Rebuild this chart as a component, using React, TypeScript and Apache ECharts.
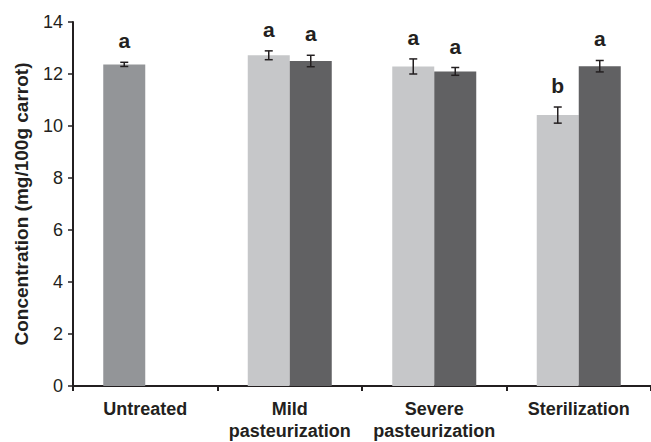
import React, { useEffect, useRef } from "react";
import * as echarts from "echarts";

const categories = ["Untreated", "Mild\npasteurization", "Severe\npasteurization", "Sterilization"];
const valuesA = [12.37, 12.72, 12.29, 10.42];
const errorsA = [0.08, 0.17, 0.29, 0.31];
const lettersA = ["a", "a", "a", "b"];
const valuesB: (number | null)[] = [null, 12.5, 12.1, 12.3];
const errorsB: (number | null)[] = [null, 0.22, 0.15, 0.22];
const lettersB: (string | null)[] = [null, "a", "a", "a"];
const yTicks = [0, 2, 4, 6, 8, 10, 12, 14];

const FONT = "'Liberation Sans', Arial, Helvetica, sans-serif";
const INK = "#231f20";
const BAR_W = 42;

function makeErrSeries(values: (number | null)[], errs: (number | null)[], letters: (string | null)[], sign: number) {
  const data = values.map((v, i) => (v == null ? [i, "-", "-"] : [i, v, errs[i]]));
  return {
    type: "custom",
    z: 5,
    data,
    renderItem: (params: any, api: any) => {
      const i = params.dataIndex;
      const v = values[i];
      const e = errs[i];
      if (v == null || e == null) return null;
      const c = api.coord([i, v]);
      const x = c[0] + sign * (BAR_W / 2);
      const yTop = api.coord([i, v + e])[1];
      const yBot = api.coord([i, v - e])[1];
      const cap = 4;
      const st = { stroke: INK, lineWidth: 1.5 };
      const children: any[] = [
        { type: "line", shape: { x1: x, y1: yTop, x2: x, y2: yBot }, style: st },
        { type: "line", shape: { x1: x - cap, y1: yTop, x2: x + cap, y2: yTop }, style: st },
        { type: "line", shape: { x1: x - cap, y1: yBot, x2: x + cap, y2: yBot }, style: st },
      ];
      if (letters[i]) {
        children.push({
          type: "text",
          style: {
            x,
            y: yTop - 11,
            text: letters[i],
            fill: INK,
            font: `bold 21px ${FONT}`,
            align: "center",
            verticalAlign: "bottom",
          },
        });
      }
      return { type: "group", children };
    },
  };
}

export default function App() {
  const ref = useRef<HTMLDivElement>(null);
  useEffect(() => {
    if (!ref.current) return;
    const chart = echarts.init(ref.current, undefined, { renderer: "svg" });
    chart.setOption({
      animation: false,
      backgroundColor: "#ffffff",
      grid: { left: 73, top: 22, width: 580, height: 365, containLabel: false },
      xAxis: {
        type: "category",
        data: categories,
        axisLine: { show: true, lineStyle: { color: INK, width: 2 } },
        axisTick: { show: true, alignWithLabel: false, length: 5, lineStyle: { color: INK, width: 2 } },
        axisLabel: {
          color: INK,
          fontFamily: FONT,
          fontWeight: "bold",
          fontSize: 18,
          lineHeight: 22,
          margin: 12,
          interval: 0,
        },
        splitLine: { show: false },
      },
      yAxis: {
        type: "value",
        min: yTicks[0],
        max: yTicks[yTicks.length - 1],
        interval: 2,
        name: "Concentration (mg/100g carrot)",
        nameLocation: "middle",
        nameGap: 42,
        nameTextStyle: { color: INK, fontFamily: FONT, fontWeight: "bold", fontSize: 19 },
        axisLine: { show: true, lineStyle: { color: INK, width: 2 } },
        axisTick: { show: true, length: 5, lineStyle: { color: INK, width: 1.5 } },
        axisLabel: { color: INK, fontFamily: FONT, fontSize: 18, margin: 10 },
        splitLine: { show: false },
      },
      series: [
        {
          type: "bar",
          barWidth: BAR_W,
          barGap: "0%",
          data: valuesA.map((v, i) => (i === 0 ? { value: v, itemStyle: { color: "#939598" } } : v)),
          itemStyle: { color: "#c6c7c9" },
        },
        {
          type: "bar",
          barWidth: BAR_W,
          barGap: "0%",
          data: valuesB.map((v) => (v == null ? "-" : v)),
          itemStyle: { color: "#616163" },
        },
        makeErrSeries(valuesA, errorsA, lettersA, -1),
        makeErrSeries(valuesB, errorsB, lettersB, 1),
      ],
    });
    return () => chart.dispose();
  }, []);
  return (
    <div
      ref={ref}
      style={{ position: "absolute", left: 0, top: 0, width: 651, height: 442, background: "#fff" }}
    />
  );
}
